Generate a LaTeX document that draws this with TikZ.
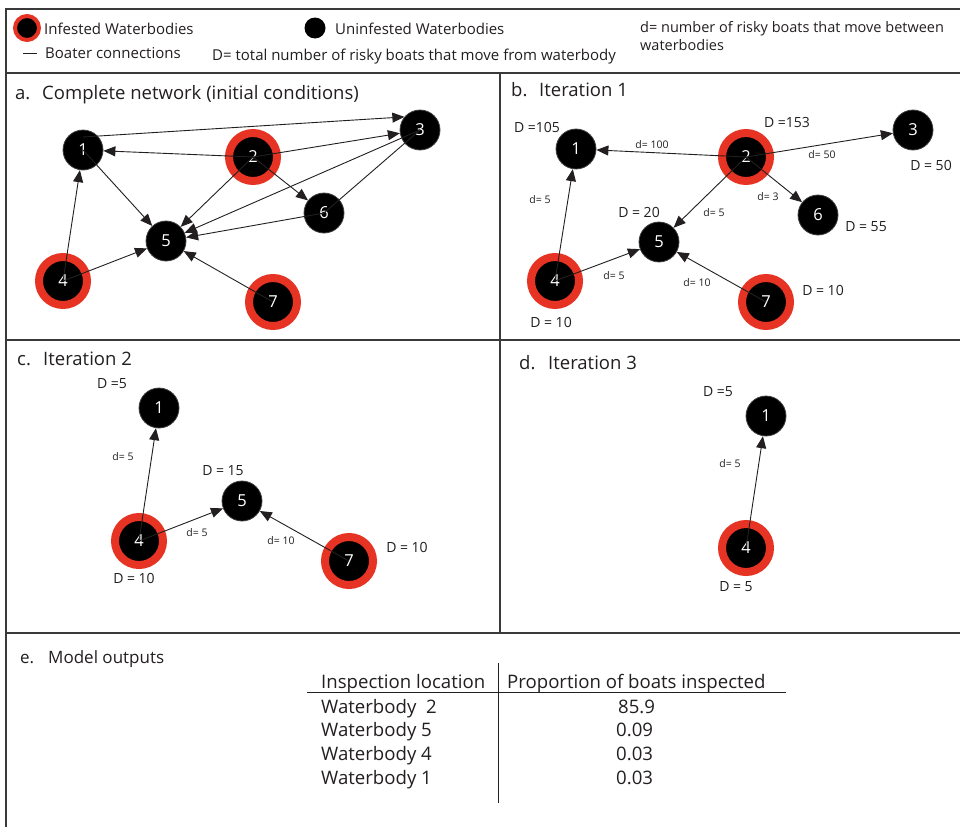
\documentclass[tikz,border=0pt]{standalone}
\usepackage{fontspec}
\setmainfont{Open Sans}
\usetikzlibrary{arrows.meta}
\definecolor{ringred}{HTML}{E63323}
\definecolor{ink}{HTML}{231F20}
\definecolor{framecol}{HTML}{3A3A3A}
\begin{document}
\begin{tikzpicture}[x=1pt,y=-1pt,
  wb/.style={circle, fill=black, draw=black!75, line width=0.8pt, minimum size=40pt, inner sep=0pt, text=white, font=\fontsize{16.5}{16.5}\selectfont},
  inf/.style={circle, fill=black, draw=ringred, line width=8pt, minimum size=48pt, inner sep=0pt, text=white, font=\fontsize{16.5}{16.5}\selectfont},
  arr/.style={line width=0.9pt, draw=ink, -{Triangle[length=12pt,width=10pt]}},
  plainline/.style={line width=0.9pt, draw=ink},
  framed/.style={line width=1.4pt, draw=framecol},
  ttl/.style={inner sep=0pt, anchor=base west, text=ink, font=\fontsize{18.5}{18.5}\selectfont},
  leg/.style={inner sep=0pt, anchor=base west, text=ink, font=\fontsize{15}{15}\selectfont},
  legs/.style={inner sep=0pt, anchor=base west, text=ink, font=\fontsize{14.5}{14.5}\selectfont},
  tab/.style={inner sep=0pt, anchor=base west, text=ink, font=\fontsize{18.6}{18.6}\selectfont},
  Dlab/.style={inner sep=0pt, text=ink, font=\fontsize{14}{14}\selectfont},
  dlab/.style={inner sep=0pt, text=ink, font=\fontsize{10.5}{10.5}\selectfont}
]
\useasboundingbox (0,0) rectangle (960,827);
\fill[white] (0,0) rectangle (960,827);

% frames
\draw[framed] (6,827) -- (6,9) -- (960,9);
\draw[framed] (6,73) -- (960,73);
\draw[framed] (6,340) -- (960,340);
\draw[framed] (6,633) -- (960,633);
\draw[framed] (500,73) -- (500,633);

% legend
\node[circle, fill=black, draw=ringred, line width=4pt, minimum size=24pt, inner sep=0pt] (lgInf) at (27,28) {};
\node[leg] (lgInfT) at (44,34) {Infested Waterbodies};
\draw[plainline] (23,53) -- (37,53);
\node[leg] (lgBoat) at (45,58) {Boater connections};
\node[leg] (lgD) at (212,60) {D= total number of risky boats that move from waterbody};
\node[circle, fill=black, minimum size=21pt, inner sep=0pt] (lgUn) at (315,28) {};
\node[leg] (lgUnT) at (335,34) {Uninfested Waterbodies};
\node[legs] (lgd1) at (640,32) {d= number of risky boats that move between};
\node[legs] (lgd2) at (640,50) {waterbodies};

% panel titles
\node[ttl] (ta1) at (15,99) {a.};
\node[ttl] (ta2) at (42,99) {Complete network (initial conditions)};
\node[ttl] (tb1) at (511,96) {b.};
\node[ttl] (tb2) at (539,96) {Iteration 1};
\node[ttl] (tc1) at (17,365) {c.};
\node[ttl] (tc2) at (43,365) {Iteration 2};
\node[ttl] (td1) at (519,369) {d.};
\node[ttl] (td2) at (548,369) {Iteration 3};
\node[ttl, font=\fontsize{17}{17}\selectfont] (te1) at (20,663) {e.};
\node[ttl, font=\fontsize{17}{17}\selectfont] (te2) at (48,663) {Model outputs};

% panel a
\node[wb]  (a1) at (83,150) {1};
\node[inf] (a2) at (253,157) {2};
\node[wb]  (a3) at (420,130) {3};
\node[inf] (a4) at (63,281) {4};
\node[wb]  (a5) at (166,241) {5};
\node[wb]  (a6) at (324,213) {6};
\node[inf] (a7) at (273,302) {7};
\draw[arr] ([yshift=13pt]a1.center) -- (a3.140);
\draw[arr] (a2.center) -- (a1);
\draw[arr] (a2.center) -- (a3);
\draw[arr] (a2.center) -- (a5);
\draw[arr] (a2.center) -- (a6);
\draw[arr] (a3.center) -- (a5);
\draw[plainline] (a3.center) -- (a6.center);
\draw[arr] (a1.center) -- (a5);
\draw[arr] (a6.center) -- (a5);
\draw[arr] (a4.center) -- (a1);
\draw[arr] (a4.center) -- (a5);
\draw[arr] (a7.center) -- (a5);

% panel b
\node[wb]  (b1) at (576,149) {1};
\node[inf] (b2) at (746,157) {2};
\node[wb]  (b3) at (913,130) {3};
\node[inf] (b4) at (555,281) {4};
\node[wb]  (b5) at (659,242) {5};
\node[wb]  (b6) at (818,215) {6};
\node[inf] (b7) at (766,302) {7};
\draw[arr] (b2.center) -- (b1);
\draw[arr] (b2.center) -- (b3);
\draw[arr] (b2.center) -- (b5);
\draw[arr] (b2.center) -- (b6);
\draw[arr] (b4.center) -- (b1);
\draw[arr] (b4.center) -- (b5);
\draw[arr] (b7.center) -- (b5);
\node[Dlab] (bD1) at (537,127) {D =105};
\node[Dlab] (bD2) at (787,122) {D =153};
\node[Dlab] (bD3) at (931,165) {D = 50};
\node[Dlab] (bD5) at (639,212) {D = 20};
\node[Dlab] (bD6) at (866,227) {D = 55};
\node[Dlab] (bD4) at (551,322) {D = 10};
\node[Dlab] (bD7) at (823,290) {D = 10};
\node[dlab] (bd21) at (652,145) {d= 100};
\node[dlab] (bd23) at (822,155) {d= 50};
\node[dlab] (bd26) at (768,197) {d= 3};
\node[dlab] (bd25) at (714,213) {d= 5};
\node[dlab] (bd41) at (540,200) {d= 5};
\node[dlab] (bd45) at (614,276) {d= 5};
\node[dlab] (bd75) at (697,283) {d= 10};

% panel c
\node[wb]  (c1) at (159,408) {1};
\node[inf] (c4) at (139,541) {4};
\node[wb]  (c5) at (242,501) {5};
\node[inf] (c7) at (349,561) {7};
\draw[arr] (c4.center) -- (c1);
\draw[arr] (c4.center) -- (c5);
\draw[arr] (c7.center) -- (c5);
\node[Dlab] (cD1) at (112,384) {D =5};
\node[Dlab] (cD5) at (223,471) {D = 15};
\node[Dlab] (cD4) at (134,578) {D = 10};
\node[Dlab] (cD7) at (407,547) {D = 10};
\node[dlab] (cd41) at (123,457) {d= 5};
\node[dlab] (cd45) at (197,533) {d= 5};
\node[dlab] (cd75) at (281,541) {d= 10};

% panel d
\node[wb]  (d1) at (766,416) {1};
\node[inf] (d4) at (746,548) {4};
\draw[arr] (d4.center) -- (d1);
\node[Dlab] (dD1) at (718,392) {D =5};
\node[Dlab] (dD4) at (736,587) {D = 5};
\node[dlab] (dd41) at (730,464) {d= 5};

% panel e table
\draw[line width=1pt, draw=ink] (307,692) -- (786,692);
\draw[line width=1pt, draw=ink] (498,663) -- (498,803);
\node[tab] (h1) at (321,688) {Inspection location};
\node[tab] (h2) at (507,688) {Proportion of boats inspected};
\node[tab] (r1a) at (321,713) {Waterbody\ \ 2};
\node[tab] (r2a) at (321,736) {Waterbody 5};
\node[tab] (r3a) at (321,760) {Waterbody 4};
\node[tab] (r4a) at (321,784) {Waterbody 1};
\node[tab] (r1b) at (618,713) {85.9};
\node[tab] (r2b) at (616,736) {0.09};
\node[tab] (r3b) at (616,760) {0.03};
\node[tab] (r4b) at (616,784) {0.03};
\end{tikzpicture}
\end{document}
